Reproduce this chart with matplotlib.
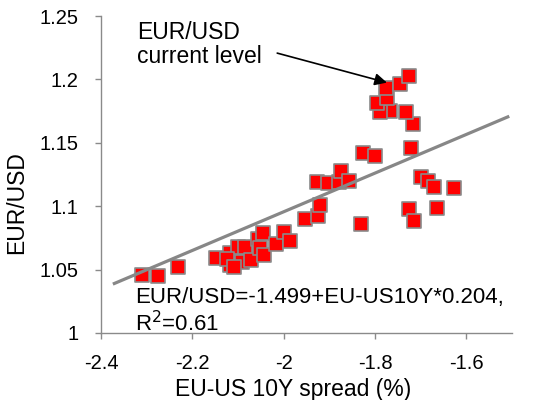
import matplotlib
matplotlib.use("Agg")
import matplotlib.pyplot as plt

# EU-US 10Y spread (%) vs EUR/USD
spread = [-2.311, -2.275, -2.231, -2.149, -2.117, -2.117, -2.092, -2.100,
          -2.085, -2.071, -2.057, -2.045, -2.052, -2.042, -2.016, -2.000,
          -1.987, -1.954, -1.925, -1.920, -1.926, -1.903, -1.878, -1.874,
          -1.856, -1.830, -1.827, -1.801, -1.721, -1.717, -1.733, -1.767,
          -1.790, -1.796, -1.773, -1.776, -1.746, -1.725, -1.699, -1.685,
          -1.670, -1.626, -1.726, -1.665, -1.714, -2.124, -2.108]
eurusd = [1.0457, 1.0451, 1.0522, 1.0593, 1.0628, 1.0540, 1.0560, 1.0680,
          1.0675, 1.0575, 1.0745, 1.0785, 1.0667, 1.0614, 1.0698, 1.0798,
          1.0727, 1.0900, 1.0920, 1.1010, 1.1190, 1.1180, 1.1190, 1.1280,
          1.1200, 1.0856, 1.1420, 1.1396, 1.1460, 1.1650, 1.1740, 1.1748,
          1.1740, 1.1813, 1.1853, 1.1935, 1.1966, 1.2026, 1.1230, 1.1200,
          1.1152, 1.1140, 1.0974, 1.0982, 1.0884, 1.0580, 1.0520]

# trend line as drawn
trend_x = [-2.374, -1.506]
trend_intercept = 1.4006
trend_slope = 0.1525

xticks = [-2.4, -2.2, -2.0, -1.8, -1.6]
xtick_labels = ["-2.4", "-2.2", "-2", "-1.8", "-1.6"]
yticks = [1.0, 1.05, 1.1, 1.15, 1.2, 1.25]
ytick_labels = ["1", "1.05", "1.1", "1.15", "1.2", "1.25"]

plt.rcParams['font.family'] = ['Liberation Sans', 'DejaVu Sans']

fig = plt.figure(figsize=(5.33, 4.0), dpi=100)
ax = fig.add_axes([101 / 533, 1 - 333 / 400, 411 / 533, 317 / 400])

ax.scatter(spread, eurusd, marker='s', s=112, facecolor='#ff0000',
           edgecolor='#8a8a8a', linewidth=1.2, zorder=2)
ax.plot(trend_x, [trend_intercept + trend_slope * v for v in trend_x],
        color='#878787', lw=2.3, solid_capstyle='butt', zorder=3)

ax.set_xlim(-2.4, -1.5)
ax.set_ylim(1.0, 1.25)
ax.set_xticks(xticks)
ax.set_xticklabels(xtick_labels)
ax.set_yticks(yticks)
ax.set_yticklabels(ytick_labels)

for side in ['top', 'right']:
    ax.spines[side].set_visible(False)
for side in ['left', 'bottom']:
    ax.spines[side].set_color('#8a8a8a')
    ax.spines[side].set_linewidth(1.0)
ax.tick_params(axis='both', direction='out', length=4, width=1.0,
               color='#8a8a8a', labelsize=14.5)
ax.tick_params(axis='x', pad=11)
ax.tick_params(axis='y', pad=12)

ax.set_xlabel("EU-US 10Y spread (%)", fontsize=16.5)
ax.xaxis.set_label_coords(0.468, -0.142)
ax.set_ylabel("EUR/USD", fontsize=16.5)
ax.yaxis.set_label_coords(-0.178, 0.41)

ax.annotate("", xy=(-1.768, 1.1969), xytext=(-2.020, 1.2213),
            arrowprops=dict(arrowstyle='-|>', color='black', lw=1.2,
                            mutation_scale=18))
ax.text(-2.321, 1.246, "EUR/USD\ncurrent level", fontsize=16.5,
        va='top', ha='left', linespacing=1.05)
ax.text(-2.326, 1.036, "EUR/USD=-1.499+EU-US10Y*0.204,\nR$^2$=0.61",
        fontsize=16, va='top', ha='left', linespacing=1.12)

fig.savefig("out.png", dpi=100)
